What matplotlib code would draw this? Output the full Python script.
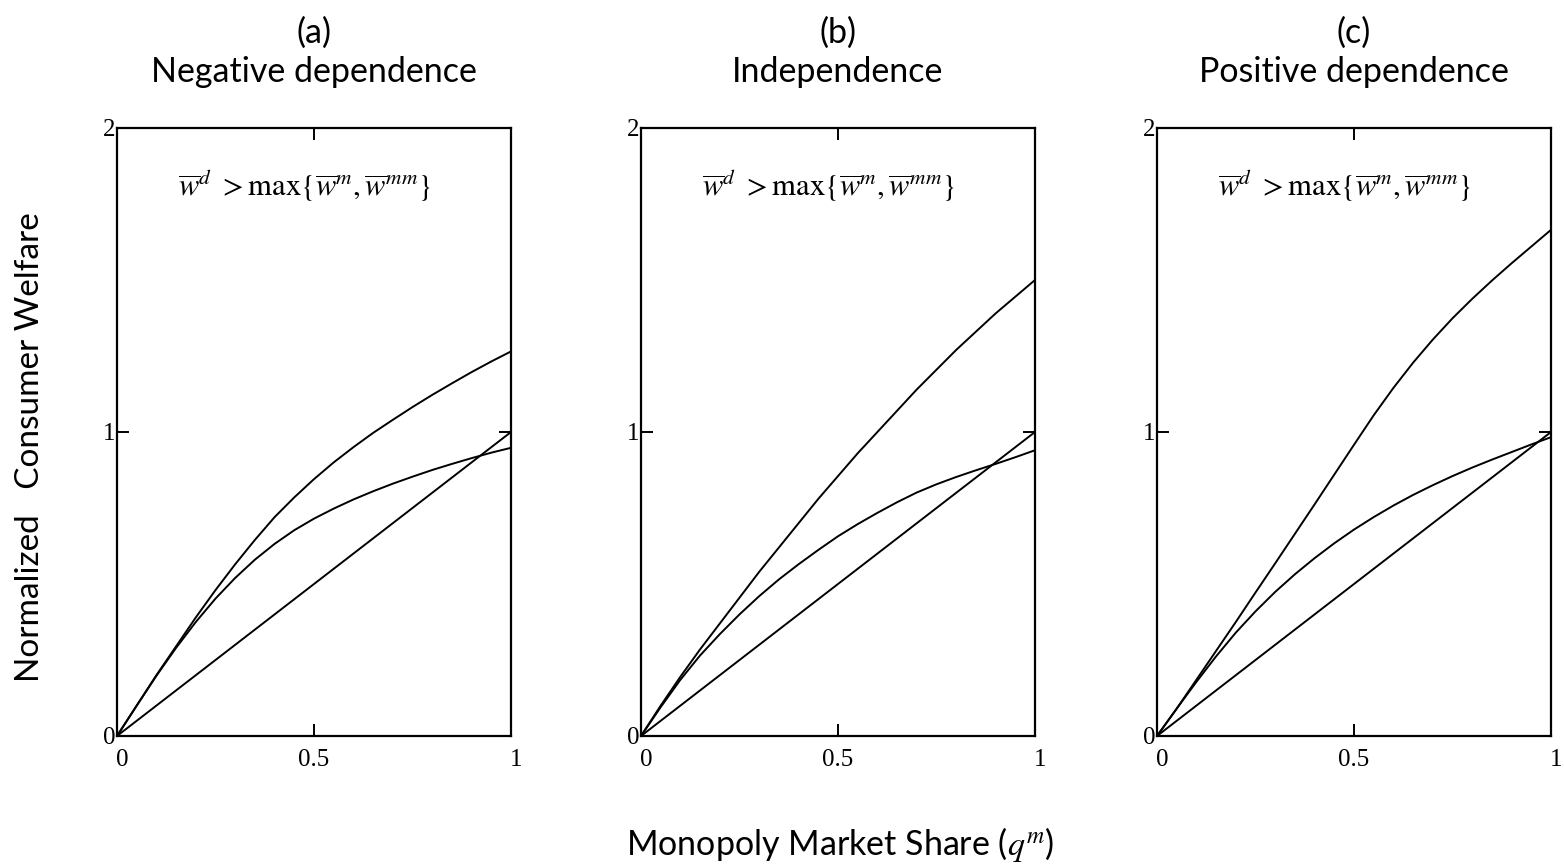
import matplotlib
matplotlib.use("Agg")
import matplotlib.pyplot as plt
import matplotlib.transforms as mtransforms

# ---- data ----
q_grid = [0.0, 0.05, 0.1, 0.15, 0.2, 0.25, 0.3, 0.35, 0.4, 0.45, 0.5,
          0.55, 0.6, 0.65, 0.7, 0.75, 0.8, 0.85, 0.9, 0.95, 1.0]

a_top = [0.0, 0.10, 0.20, 0.295, 0.39, 0.48, 0.565, 0.645, 0.72, 0.785, 0.845,
         0.90, 0.95, 0.997, 1.04, 1.082, 1.122, 1.16, 1.197, 1.232, 1.265]
a_mid = [0.0, 0.10, 0.198, 0.29, 0.375, 0.452, 0.52, 0.58, 0.632, 0.677, 0.715,
         0.748, 0.778, 0.805, 0.83, 0.853, 0.875, 0.895, 0.914, 0.932, 0.948]

b_top = [0.0, 0.10, 0.195, 0.285, 0.37, 0.455, 0.54, 0.62, 0.70, 0.78, 0.855,
         0.93, 1.0, 1.07, 1.14, 1.205, 1.27, 1.33, 1.39, 1.445, 1.50]
b_mid = [0.0, 0.095, 0.185, 0.265, 0.335, 0.40, 0.46, 0.515, 0.565, 0.612, 0.657,
         0.697, 0.734, 0.769, 0.801, 0.828, 0.852, 0.874, 0.895, 0.917, 0.94]

c_top = [0.0, 0.09, 0.185, 0.28, 0.375, 0.472, 0.568, 0.665, 0.762, 0.86, 0.958,
         1.055, 1.145, 1.228, 1.304, 1.374, 1.438, 1.498, 1.555, 1.61, 1.665]
c_mid = [0.0, 0.09, 0.178, 0.262, 0.34, 0.41, 0.474, 0.532, 0.585, 0.634, 0.679,
         0.72, 0.758, 0.793, 0.825, 0.855, 0.883, 0.909, 0.934, 0.959, 0.983]

line_x = [0.0, 1.0]
line_y = [0.0, 1.0]

panel_letters = ["(a)", "(b)", "(c)"]
panel_titles = ["Negative dependence", "Independence", "Positive dependence"]
top_series = [a_top, b_top, c_top]
mid_series = [a_mid, b_mid, c_mid]

x_ticks = [0, 0.5, 1]
x_ticklabels = ["0", "0.5", "1"]
y_ticks = [0, 1, 2]
y_ticklabels = ["0", "1", "2"]

annotation = r"$\overline{w}^{d}\ >\mathrm{max}\{\overline{w}^{m},\overline{w}^{mm}\}$"
y_label = "Normalized   Consumer Welfare"
x_label = "Monopoly Market Share ($q^m$)"

# ---- figure ----
W, H = 1564, 866
fig = plt.figure(figsize=(W / 100, H / 100), dpi=100)
plt.rcParams['mathtext.fontset'] = 'stix'

lefts = [117, 641, 1157]
ax_w = 394
ax_top, ax_bot = 128, 736
title_font = "Lato"
tick_font = "Liberation Serif"

for i in range(3):
    ax = fig.add_axes([lefts[i] / W, 1 - ax_bot / H, ax_w / W, (ax_bot - ax_top) / H])
    ax.plot(line_x, line_y, color="black", lw=1.4, solid_joinstyle="round")
    ax.plot(q_grid, mid_series[i], color="black", lw=1.4, solid_joinstyle="round")
    ax.plot(q_grid, top_series[i], color="black", lw=1.4, solid_joinstyle="round")
    ax.set_xlim(0, 1)
    ax.set_ylim(0, 2)
    ax.set_xticks(x_ticks)
    ax.set_yticks(y_ticks)
    ax.set_xticklabels(x_ticklabels, fontsize=18, family=tick_font)
    ax.set_yticklabels(y_ticklabels, fontsize=18, family=tick_font)
    ax.tick_params(direction="in", length=8.5, width=1.4, top=True, right=True)
    ax.tick_params(axis="x", pad=9)
    ax.tick_params(axis="y", pad=1)
    xl = ax.get_xticklabels()
    off = mtransforms.ScaledTranslation(5 / 100, 0, fig.dpi_scale_trans)
    xl[0].set_transform(xl[0].get_transform() + off)
    xl[-1].set_transform(xl[-1].get_transform() + off)
    for s in ax.spines.values():
        s.set_linewidth(1.6)
    ax.text(0.477, 0.906, annotation, transform=ax.transAxes, ha="center", va="center",
            fontsize=22)
    cx = (lefts[i] + ax_w / 2) / W
    fig.text(cx, 1 - 33 / H, panel_letters[i], ha="center", va="center",
             fontsize=24.5, family=title_font)
    fig.text(cx, 1 - 72 / H, panel_titles[i], ha="center", va="center",
             fontsize=24.5, family=title_font)

fig.text(30 / W, 1 - 447 / H, y_label, rotation=90, ha="center", va="center",
         fontsize=24, family=title_font)
fig.text(840 / W, 1 - 845 / H, x_label, ha="center", va="center",
         fontsize=24.5, family=title_font)

fig.savefig("out.png", dpi=100)
